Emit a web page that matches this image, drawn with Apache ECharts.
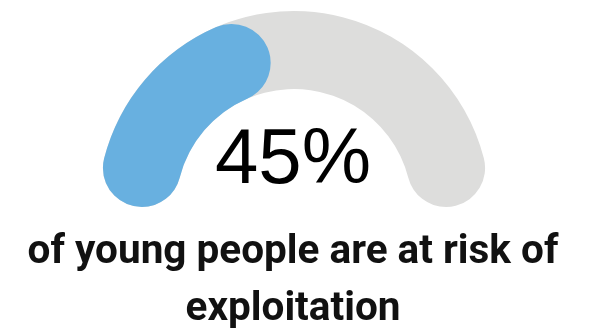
<!DOCTYPE html>
<html>
<head>
<meta charset="utf-8">
<script src="https://cdn.jsdelivr.net/npm/echarts@6/dist/echarts.min.js"></script>
<style>
html,body{margin:0;padding:0;background:#fff;}
#c{width:597px;height:334px;}
</style>
</head>
<body>
<div id="c"></div>
<script>
const shareValue = 45;            // percent of young people at risk
const scaleMax = 100;
const captionLines = ['of young people are at risk of', 'exploitation'];

const blue = '#68B0E0';
const grey = '#DDDDDC';

const chart = echarts.init(document.getElementById('c'));
const ringCenter = [294, 207];
const ringRadius = [118, 196];
const hidden = {color: 'rgba(0,0,0,0)'};

const graphics = [{
  type: 'text',
  silent: true,
  style: {
    text: shareValue + '%',
    x: 293, y: 161,
    align: 'center', verticalAlign: 'middle',
    font: 'normal 78px "Liberation Sans"',
    fill: '#000'
  }
}];
captionLines.forEach(function (line, i) {
  graphics.push({
    type: 'text',
    silent: true,
    style: {
      text: line,
      x: 293, y: 253 + i * 57,
      align: 'center', verticalAlign: 'middle',
      font: 'bold 40.5px Roboto',
      fill: '#111'
    }
  });
});

chart.setOption({
  animation: false,
  backgroundColor: '#fff',
  graphic: graphics,
  series: [
    {
      type: 'pie',
      silent: true,
      center: ringCenter,
      radius: ringRadius,
      startAngle: 180,
      clockwise: true,
      label: {show: false},
      labelLine: {show: false},
      emphasis: {disabled: true},
      itemStyle: {borderRadius: 39, borderWidth: 0},
      data: [
        {value: scaleMax, itemStyle: {color: grey}},
        {value: scaleMax, itemStyle: hidden}
      ]
    },
    {
      type: 'pie',
      silent: true,
      center: ringCenter,
      radius: ringRadius,
      startAngle: 180,
      clockwise: true,
      label: {show: false},
      labelLine: {show: false},
      emphasis: {disabled: true},
      itemStyle: {borderRadius: 39, borderWidth: 0},
      data: [
        {value: shareValue, itemStyle: {color: blue}},
        {value: scaleMax - shareValue, itemStyle: hidden},
        {value: scaleMax, itemStyle: hidden}
      ]
    }
  ]
});
</script>
</body>
</html>
